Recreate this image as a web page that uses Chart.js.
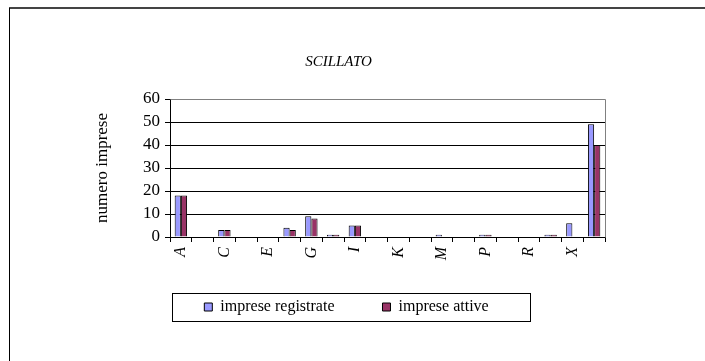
<!DOCTYPE html>
<html>
<head>
<meta charset="utf-8">
<title>SCILLATO</title>
<script src="https://cdn.jsdelivr.net/npm/chart.js@4/dist/chart.umd.min.js"></script>
<style>
    body { margin: 0; background: #ffffff; }
    #wrap { position: relative; width: 705px; height: 361px; }
</style>
</head>
<body>
<div id="wrap"><canvas id="chart"></canvas></div>
<script>
// data (last group = totale)
const categories = ['A', 'B', 'C', 'D', 'E', 'F', 'G', 'H', 'I', 'J', 'K', 'L', 'M', 'N', 'P', 'Q', 'R', 'S', 'X', 'Totale'];
const registrate = [18, 0, 3, 0, 0, 4, 9, 1, 5, 0, 0, 0, 1, 0, 1, 0, 0, 1, 6, 49];
const attive = [18, 0, 3, 0, 0, 3, 8, 1, 5, 0, 0, 0, 0, 0, 1, 0, 0, 1, 0, 40];
const yTicks = [0, 10, 20, 30, 40, 50, 60];

const serif = 'Liberation Serif';
Chart.defaults.font.family = serif;
Chart.defaults.color = '#000000';

// white background, page frame, plot border, legend box
const framePlugin = {
    id: 'frame',
    afterLayout(chart) {
        // title sits a little left of the plot centre
        chart.titleBlock.left -= 8;
        chart.titleBlock.right -= 8;
        // legend closer to the axis labels
        chart.legend.top -= 16;
        chart.legend.bottom -= 16;
    },
    beforeDraw(chart) {
        const ctx = chart.ctx;
        ctx.save();
        ctx.fillStyle = '#ffffff';
        ctx.fillRect(0, 0, chart.width, chart.height);
        ctx.restore();
    },
    afterDraw(chart) {
        const ctx = chart.ctx;
        const a = chart.chartArea;
        ctx.save();
        // plot area border (top + right, gray)
        ctx.strokeStyle = '#808080';
        ctx.lineWidth = 1;
        ctx.beginPath();
        ctx.moveTo(Math.round(a.left) + 0.5, Math.round(a.top) + 0.5);
        ctx.lineTo(Math.round(a.right) + 0.5, Math.round(a.top) + 0.5);
        ctx.lineTo(Math.round(a.right) + 0.5, Math.round(a.bottom) + 0.5);
        ctx.stroke();

        // page frame
        ctx.strokeStyle = '#444444';
        ctx.lineWidth = 2;
        ctx.beginPath();
        ctx.moveTo(9, 8);
        ctx.lineTo(chart.width, 8);
        ctx.stroke();
        ctx.strokeStyle = '#000000';
        ctx.lineWidth = 1;
        ctx.beginPath();
        ctx.moveTo(9.5, 8);
        ctx.lineTo(9.5, chart.height);
        ctx.stroke();

        // legend box
        const hb = chart.legend.legendHitBoxes;
        if (hb && hb.length) {
            const first = hb[0];
            const last = hb[hb.length - 1];
            const x0 = Math.round(first.left - 32) + 0.5;
            const x1 = Math.round(last.left + last.width + 41) + 0.5;
            const y0 = Math.round(first.top - 6) + 0.5;
            const y1 = Math.round(first.top + first.height + 6) + 0.5;
            ctx.strokeStyle = '#000000';
            ctx.lineWidth = 1;
            ctx.strokeRect(x0, y0, x1 - x0, y1 - y0);
        }
        ctx.restore();
    }
};

new Chart(document.getElementById('chart'), {
    type: 'bar',
    data: {
        labels: categories,
        datasets: [
            {
                label: 'imprese registrate',
                data: registrate,
                backgroundColor: '#9999FF',
                borderColor: '#000000',
                borderWidth: 1,
                categoryPercentage: 0.57,
                barPercentage: 1.0
            },
            {
                label: 'imprese attive',
                data: attive,
                backgroundColor: '#993366',
                borderColor: '#000000',
                borderWidth: 1,
                categoryPercentage: 0.57,
                barPercentage: 1.0
            }
        ]
    },
    options: {
        responsive: true,
        maintainAspectRatio: false,
        animation: false,
        layout: {
            padding: { top: 53, left: 88, right: 100, bottom: 20 }
        },
        scales: {
            x: {
                grid: {
                    offset: true,
                    drawOnChartArea: false,
                    drawTicks: true,
                    tickLength: 5,
                    color: '#000000'
                },
                border: { color: '#000000' },
                ticks: {
                    autoSkip: false,
                    maxRotation: 90,
                    minRotation: 90,
                    padding: 5,
                    font: { family: serif, size: 16, style: 'italic' },
                    callback: function(value, index) {
                        return index % 2 === 0 ? categories[index] : '';
                    }
                },
                afterFit: function(scale) {
                    scale.height = 30;
                }
            },
            y: {
                min: 0,
                max: 60,
                afterBuildTicks: function(scale) {
                    scale.ticks = yTicks.map(v => ({ value: v }));
                },
                grid: {
                    color: '#000000',
                    lineWidth: 1,
                    tickLength: 5
                },
                border: { color: '#000000' },
                ticks: {
                    autoSkip: false,
                    padding: 5,
                    font: { family: serif, size: 17 }
                },
                title: {
                    display: true,
                    text: 'numero imprese',
                    padding: { top: 4, bottom: 0 },
                    font: { family: serif, size: 17 }
                },
                afterFit: function(scale) {
                    scale.width = 82;
                }
            }
        },
        plugins: {
            title: {
                display: true,
                text: 'SCILLATO',
                color: '#000000',
                padding: { top: 0, bottom: 28 },
                font: { family: serif, size: 15, style: 'italic', weight: 'normal' }
            },
            legend: {
                position: 'bottom',
                labels: {
                    boxWidth: 8,
                    boxHeight: 8,
                    padding: 48,
                    color: '#000000',
                    font: { family: serif, size: 16 }
                }
            },
            tooltip: { enabled: false }
        }
    },
    plugins: [framePlugin]
});
</script>
</body>
</html>
